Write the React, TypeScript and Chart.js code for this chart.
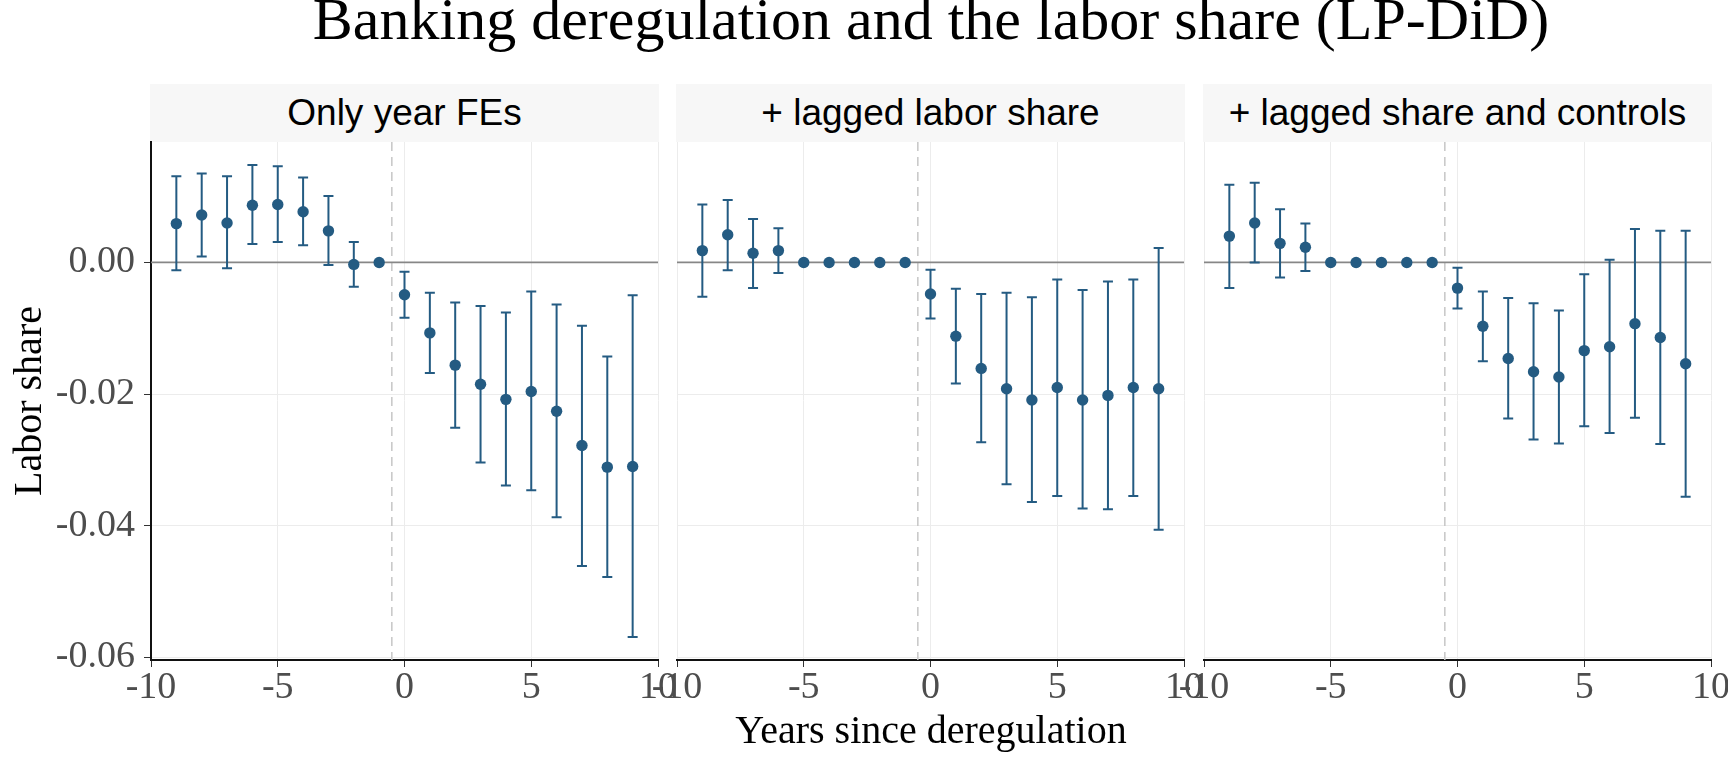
import { useEffect, useRef } from 'react'
import { Chart, registerables } from 'chart.js'

Chart.register(...registerables)

// event time (years since deregulation)
const years = [-9, -8, -7, -6, -5, -4, -3, -2, -1, 0, 1, 2, 3, 4, 5, 6, 7, 8, 9]
const xTicks = [-10, -5, 0, 5, 10]
const yTicks = [0, -0.02, -0.04, -0.06]

const panelTitles = ['Only year FEs', '+ lagged labor share', '+ lagged share and controls']

// panel 1: only year FEs
const est1 = [0.0059, 0.0072, 0.006, 0.0087, 0.0088, 0.0077, 0.0048, -0.0003, 0, -0.0049, -0.0107, -0.0156, -0.0185, -0.0208, -0.0196, -0.0226, -0.0278, -0.0311, -0.031]
const lo1 = [-0.0012, 0.0009, -0.0009, 0.0028, 0.0031, 0.0026, -0.0004, -0.0037, 0, -0.0084, -0.0168, -0.0251, -0.0304, -0.0339, -0.0346, -0.0387, -0.0461, -0.0478, -0.0569]
const hi1 = [0.0131, 0.0135, 0.0131, 0.0148, 0.0146, 0.0129, 0.0101, 0.0031, 0, -0.0014, -0.0046, -0.0061, -0.0066, -0.0076, -0.0044, -0.0064, -0.0096, -0.0143, -0.005]

// panel 2: + lagged labor share
const est2 = [0.0018, 0.0042, 0.0014, 0.0018, 0, 0, 0, 0, 0, -0.0048, -0.0112, -0.0161, -0.0192, -0.0209, -0.019, -0.0209, -0.0202, -0.019, -0.0192]
const lo2 = [-0.0052, -0.0012, -0.0039, -0.0016, 0, 0, 0, 0, 0, -0.0085, -0.0184, -0.0273, -0.0337, -0.0364, -0.0355, -0.0374, -0.0375, -0.0355, -0.0406]
const hi2 = [0.0088, 0.0095, 0.0066, 0.0052, 0, 0, 0, 0, 0, -0.0011, -0.004, -0.0048, -0.0046, -0.0053, -0.0026, -0.0042, -0.0029, -0.0026, 0.0022]

// panel 3: + lagged share and controls
const est3 = [0.004, 0.006, 0.0029, 0.0023, 0, 0, 0, 0, 0, -0.0039, -0.0097, -0.0146, -0.0166, -0.0174, -0.0134, -0.0128, -0.0093, -0.0114, -0.0154]
const lo3 = [-0.0039, 0.0, -0.0023, -0.0013, 0, 0, 0, 0, 0, -0.007, -0.015, -0.0237, -0.0269, -0.0275, -0.0249, -0.0259, -0.0236, -0.0276, -0.0356]
const hi3 = [0.0118, 0.0121, 0.0081, 0.0059, 0, 0, 0, 0, 0, -0.0008, -0.0044, -0.0054, -0.0062, -0.0073, -0.0018, 0.0004, 0.0051, 0.0048, 0.0048]

const panels = [
  { est: est1, lo: lo1, hi: hi1 },
  { est: est2, lo: lo2, hi: hi2 },
  { est: est3, lo: lo3, hi: hi3 },
]

const Y_MIN = -0.0604
const Y_MAX = 0.0183
const TREAT_LINE = -0.5

const BLUE = '#245b82'
const SERIF = "'Liberation Serif', 'DejaVu Serif', serif"
const SANS = "'Liberation Sans', Arial, sans-serif"

const PANEL_LEFT = [151, 677, 1204]
const PANEL_W = 507
const PLOT_TOP = 142
const PLOT_BOTTOM = 660
const PAD = 40
const PAD_TOP = 30
const X_AXIS_H = 62
const Y_AXIS_W = 151

const errorBars = {
  id: 'errorBars',
  beforeDatasetsDraw(chart: any) {
    const { ctx, chartArea: a, scales } = chart
    const x = scales.x
    const y = scales.y
    ctx.save()
    // treatment timing line
    const vx = x.getPixelForValue(TREAT_LINE)
    ctx.strokeStyle = '#c6c6c6'
    ctx.lineWidth = 1.5
    ctx.setLineDash([9, 6])
    ctx.beginPath()
    ctx.moveTo(vx, a.top)
    ctx.lineTo(vx, a.bottom)
    ctx.stroke()
    ctx.setLineDash([])
    // zero line
    const zy = y.getPixelForValue(0)
    ctx.strokeStyle = '#878787'
    ctx.lineWidth = 1.8
    ctx.beginPath()
    ctx.moveTo(a.left, zy)
    ctx.lineTo(a.right, zy)
    ctx.stroke()
    // confidence intervals
    ctx.strokeStyle = BLUE
    ctx.lineWidth = 2
    for (const p of chart.data.datasets[0].data) {
      if (p.lo === p.hi) continue
      const px = x.getPixelForValue(p.x)
      const y0 = y.getPixelForValue(p.lo)
      const y1 = y.getPixelForValue(p.hi)
      ctx.beginPath()
      ctx.moveTo(px, y0)
      ctx.lineTo(px, y1)
      ctx.moveTo(px - 5, y0)
      ctx.lineTo(px + 5, y0)
      ctx.moveTo(px - 5, y1)
      ctx.lineTo(px + 5, y1)
      ctx.stroke()
    }
    ctx.restore()
  },
}

function Panel({ idx }: { idx: number }) {
  const canvasRef = useRef<HTMLCanvasElement>(null)
  const first = idx === 0
  const left = first ? 0 : PANEL_LEFT[idx] - PAD
  const width = first ? Y_AXIS_W + PANEL_W + PAD : PANEL_W + 2 * PAD
  const height = PLOT_BOTTOM - PLOT_TOP + PAD_TOP + X_AXIS_H

  useEffect(() => {
    if (!canvasRef.current) return
    const { est, lo, hi } = panels[idx]
    const tickFont = { family: SERIF, size: 38, lineHeight: 1 }

    const chart = new Chart(canvasRef.current, {
      type: 'scatter',
      data: {
        datasets: [
          {
            data: years.map((yr, i) => ({ x: yr, y: est[i], lo: lo[i], hi: hi[i] })),
            backgroundColor: BLUE,
            borderColor: BLUE,
            borderWidth: 0,
            pointRadius: 5.7,
          },
        ],
      },
      plugins: [errorBars],
      options: {
        responsive: false,
        animation: false,
        events: [],
        layout: { padding: { left: first ? 0 : PAD, right: PAD, top: PAD_TOP, bottom: 0 } },
        plugins: { legend: { display: false }, tooltip: { enabled: false } },
        scales: {
          x: {
            type: 'linear',
            min: -10,
            max: 10,
            afterBuildTicks: (s: any) => { s.ticks = xTicks.map(v => ({ value: v })) },
            afterFit: (s: any) => { s.height = X_AXIS_H },
            ticks: { color: '#4d4d4d', font: tickFont, padding: 2, maxRotation: 0 },
            grid: { color: '#ececec', lineWidth: 1, tickColor: '#333333', tickLength: 7 },
            border: { display: true, color: '#111111', width: 2 },
          },
          y: {
            type: 'linear',
            min: Y_MIN,
            max: Y_MAX,
            afterBuildTicks: (s: any) => { s.ticks = yTicks.map(v => ({ value: v })) },
            afterFit: (s: any) => { s.width = first ? Y_AXIS_W : 0 },
            ticks: {
              display: first,
              color: '#4d4d4d',
              font: tickFont,
              padding: 9,
              callback: (v: any) => Number(v).toFixed(2),
            },
            grid: { color: '#ececec', lineWidth: 1, tickColor: '#333333', tickLength: 7, drawTicks: first },
            border: { display: first, color: '#111111', width: 2 },
          },
        },
      },
    } as any)

    return () => chart.destroy()
  }, [idx])

  return (
    <canvas
      ref={canvasRef}
      width={width}
      height={height}
      style={{ position: 'absolute', left, top: PLOT_TOP - PAD_TOP, width, height }}
    />
  )
}

export default function App() {
  return (
    <div style={{ position: 'fixed', left: 0, top: 0, width: 1728, height: 768, background: '#fff', overflow: 'hidden' }}>
      <div
        style={{
          position: 'absolute', left: 131, top: -11, width: 1600, textAlign: 'center',
          fontFamily: SERIF, fontSize: 60, lineHeight: '60px', color: '#000', whiteSpace: 'nowrap',
        }}
      >
        Banking deregulation and the labor share (LP-DiD)
      </div>
      {panelTitles.map((t, i) => (
        <div
          key={t}
          style={{
            position: 'absolute', left: PANEL_LEFT[i] - 1, top: 84, width: PANEL_W + 2, height: 58,
            background: '#f7f7f7', textAlign: 'center', fontFamily: SANS, fontSize: 37,
            lineHeight: '58px', color: '#000', whiteSpace: 'nowrap',
          }}
        >
          {t}
        </div>
      ))}
      {[0, 1, 2].map(i => <Panel key={i} idx={i} />)}
      <div
        style={{
          position: 'absolute', left: 28 - 200, top: 401 - 20, width: 400, height: 40,
          lineHeight: '40px', textAlign: 'center', fontFamily: SERIF, fontSize: 40,
          color: '#000', transform: 'rotate(-90deg)', whiteSpace: 'nowrap',
        }}
      >
        Labor share
      </div>
      <div
        style={{
          position: 'absolute', left: 131, top: 710, width: 1600, textAlign: 'center',
          fontFamily: SERIF, fontSize: 40, lineHeight: '40px', color: '#000', whiteSpace: 'nowrap',
        }}
      >
        Years since deregulation
      </div>
    </div>
  )
}
